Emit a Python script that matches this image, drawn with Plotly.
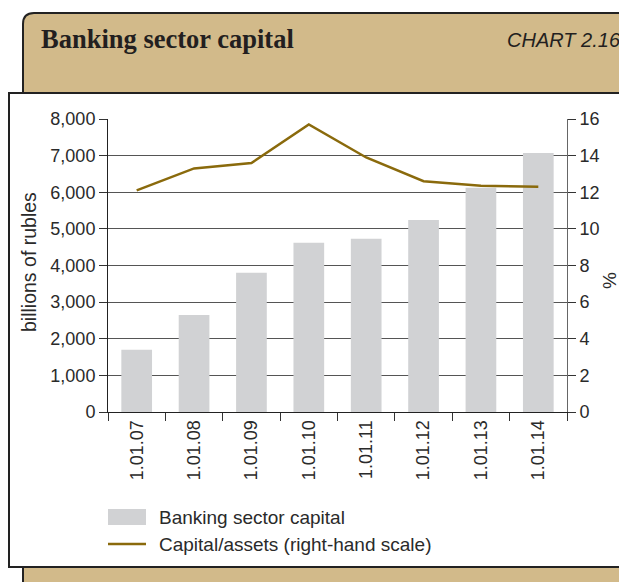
import plotly.graph_objects as go

# ---- data ----
categories = ["1.01.07", "1.01.08", "1.01.09", "1.01.10", "1.01.11", "1.01.12", "1.01.13", "1.01.14"]
capital_bn_rub = [1700, 2650, 3800, 4620, 4730, 5240, 6120, 7070]
capital_to_assets_pct = [12.1, 13.3, 13.6, 15.7, 13.9, 12.6, 12.35, 12.3]
left_ticks = [0, 1000, 2000, 3000, 4000, 5000, 6000, 7000, 8000]
left_tick_text = ["0", "1,000", "2,000", "3,000", "4,000", "5,000", "6,000", "7,000", "8,000"]
right_ticks = [0, 2, 4, 6, 8, 10, 12, 14, 16]

# page body has an 8px margin, so the figure starts at (8, 8) in the window
OFF = 8
W, H = 627 - OFF, 582 - OFF
BAR_COLOR = "#D1D2D4"
LINE_COLOR = "#8A6A0C"
TAN = "#D2BA8A"
TXT = "#2a2a2a"
FONT = "Liberation Sans"


def px(x):
    return (x - OFF) / W


def py(y):
    return 1 - (y - OFF) / H


fig = go.Figure()
fig.add_trace(go.Bar(x=categories, y=capital_bn_rub, marker=dict(color=BAR_COLOR, line=dict(width=0)),
                     name="Banking sector capital", yaxis="y", showlegend=False))
fig.add_trace(go.Scatter(x=categories, y=capital_to_assets_pct, mode="lines",
                         line=dict(color=LINE_COLOR, width=2.5), name="Capital/assets (right-hand scale)",
                         yaxis="y2", showlegend=False))

shapes = []
# tan header with rounded top-left corner
path = (f"M {px(23)},{py(95)} L {px(23)},{py(24)} Q {px(23)},{py(13)} {px(34)},{py(13)} "
        f"L {px(660)},{py(13)} L {px(660)},{py(95)} Z")
shapes.append(dict(type="path", path=path, xref="paper", yref="paper", fillcolor=TAN,
                   line=dict(color="#222", width=2), layer="below"))
# white box
shapes.append(dict(type="rect", xref="paper", yref="paper", x0=px(9), x1=px(660), y0=py(93), y1=py(567),
                   fillcolor="white", line=dict(color="#222", width=2), layer="below"))
# bottom strip
shapes.append(dict(type="rect", xref="paper", yref="paper", x0=px(23), x1=px(660), y0=py(567), y1=py(600),
                   fillcolor=TAN, line=dict(color="#222", width=2), layer="below"))
# legend swatches
shapes.append(dict(type="rect", xref="paper", yref="paper", x0=px(108), x1=px(146), y0=py(509), y1=py(525),
                   fillcolor=BAR_COLOR, line=dict(width=0)))
shapes.append(dict(type="line", xref="paper", yref="paper", x0=px(108), x1=px(146), y0=py(544), y1=py(544),
                   line=dict(color=LINE_COLOR, width=2.5)))

annotations = [
    dict(text="Banking sector capital", x=px(39), y=py(39), xref="paper", yref="paper", xanchor="left",
         yanchor="middle", showarrow=False,
         font=dict(family="Liberation Serif", size=26.5, color="#231F20", weight="bold")),
    dict(text="CHART 2.16", x=px(623), y=py(40), xref="paper", yref="paper", xanchor="right",
         yanchor="middle", showarrow=False,
         font=dict(family=FONT, size=20, color="#231F20", style="italic")),
    dict(text="billions of rubles", x=px(29), y=py(262), xref="paper", yref="paper", xanchor="center",
         yanchor="middle", textangle=-90, showarrow=False, font=dict(family=FONT, size=19.5, color=TXT)),
    dict(text="%", x=px(609), y=py(281), xref="paper", yref="paper", xanchor="center",
         yanchor="middle", textangle=-90, showarrow=False, font=dict(family=FONT, size=19, color=TXT)),
    dict(text="Banking sector capital", x=px(157), y=py(517), xref="paper", yref="paper", xanchor="left",
         yanchor="middle", showarrow=False, font=dict(family=FONT, size=19, color=TXT)),
    dict(text="Capital/assets (right-hand scale)", x=px(157), y=py(544), xref="paper", yref="paper",
         xanchor="left", yanchor="middle", showarrow=False, font=dict(family=FONT, size=19, color=TXT)),
]

fig.update_layout(
    width=W, height=H,
    margin=dict(l=0, r=0, t=0, b=0, pad=0),
    paper_bgcolor="white",
    plot_bgcolor="rgba(0,0,0,0)",
    bargap=0.465,
    showlegend=False,
    shapes=shapes,
    annotations=annotations,
    font=dict(family=FONT, size=18, color=TXT),
    xaxis=dict(domain=[px(108), px(567)], type="category", tickson="boundaries", ticks="outside",
               ticklen=8, tickcolor="#333", tickwidth=1, showline=True, linecolor="#222", linewidth=1,
               showgrid=False, tickangle=-90, automargin=False, tickfont=dict(size=18, color=TXT)),
    yaxis=dict(domain=[py(412), py(119)], range=[0, 8000], tickvals=left_ticks, ticktext=left_tick_text,
               ticks="outside", ticklen=8, tickcolor="#333", showline=True, linecolor="#222", linewidth=1,
               showgrid=True, gridcolor="#555", gridwidth=1, zeroline=False, automargin=False,
               tickfont=dict(size=18, color=TXT)),
    yaxis2=dict(overlaying="y", side="right", anchor="x", range=[0, 16], tickvals=right_ticks,
                ticks="outside", ticklen=8, tickcolor="#333", showline=True, linecolor="#666", linewidth=1,
                showgrid=False, zeroline=False, automargin=False, tickfont=dict(size=18, color=TXT)),
)

fig.write_html("out.html")
